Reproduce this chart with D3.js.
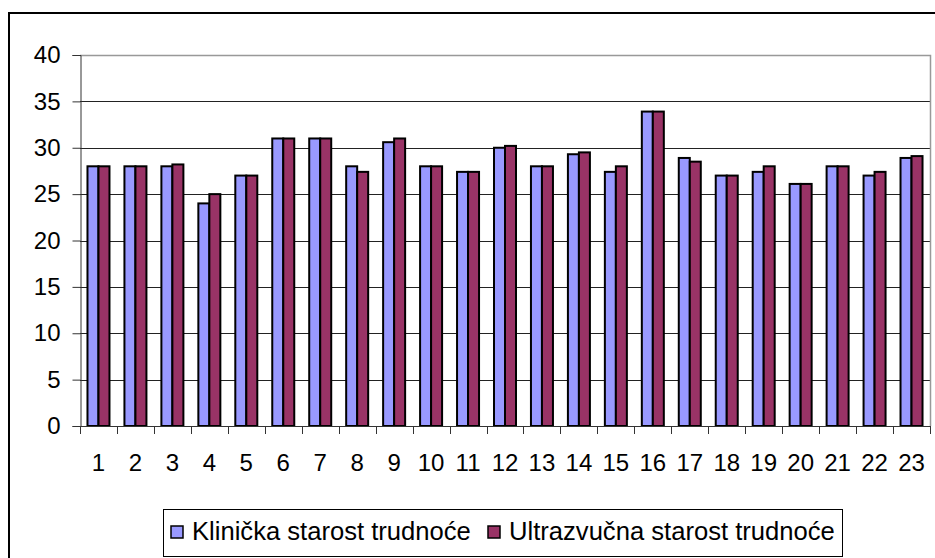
<!DOCTYPE html>
<html>
<head>
<meta charset="utf-8">
<script src="https://cdn.jsdelivr.net/npm/d3@7"></script>
<style>
  body { margin: 0; background: #fff; }
  text { font-family: Arial, "Liberation Sans", sans-serif; fill: #000; }
</style>
</head>
<body>
<svg width="935" height="558"></svg>
<script>
// Chart data
var categories = d3.range(1, 24).map(String);
var klinicka = [28, 28, 28, 24, 27, 31, 31, 28, 30.6, 28, 27.4, 30, 28, 29.3, 27.4, 33.9, 28.9, 27, 27.4, 26.1, 28, 27, 28.9];
var ultrazvucna = [28, 28, 28.2, 25, 27, 31, 31, 27.4, 31, 28, 27.4, 30.2, 28, 29.5, 28, 33.9, 28.5, 27, 28, 26.1, 28, 27.4, 29.1];
var yTicks = [0, 5, 10, 15, 20, 25, 30, 35, 40];
var seriesNames = ["Klinička starost trudnoće", "Ultrazvučna starost trudnoće"];
var seriesColors = ["#9999ff", "#993366"];

var svg = d3.select("svg");

// outer chart border (right/bottom edges run off the picture)
svg.append("path")
    .attr("d", "M9,560 L9,13 L940,13")
    .attr("fill", "none")
    .attr("stroke", "#000")
    .attr("stroke-width", 2);

var x = d3.scaleBand()
    .domain(categories)
    .range([80, 930]);

var y = d3.scaleLinear()
    .domain([0, 40])
    .range([426, 55]);

// gridlines
svg.append("g")
    .selectAll("line")
    .data(yTicks.filter(function(d) { return d > 0 && d < 40; }))
    .enter().append("line")
    .attr("x1", 80).attr("x2", 930)
    .attr("y1", function(d) { return Math.round(y(d)) + 0.5; })
    .attr("y2", function(d) { return Math.round(y(d)) + 0.5; })
    .attr("stroke", "#222")
    .attr("stroke-width", 1);

// plot area border (top and right, grey)
svg.append("path")
    .attr("d", "M80," + (Math.round(y(40)) + 0.5) + " H930.5 V" + y(0))
    .attr("fill", "none")
    .attr("stroke", "#999")
    .attr("stroke-width", 1.5);

// bars
var barW = 11;
var series = [klinicka, ultrazvucna];
series.forEach(function(vals, s) {
    svg.append("g")
        .selectAll("rect")
        .data(vals)
        .enter().append("rect")
        .attr("x", function(d, i) {
            return x(categories[i]) + x.bandwidth() / 2 - barW + s * barW;
        })
        .attr("y", function(d) { return y(d); })
        .attr("width", barW)
        .attr("height", function(d) { return y(0) - y(d); })
        .attr("fill", seriesColors[s])
        .attr("stroke", "#000")
        .attr("stroke-width", 2);
});

// y axis
var yAxis = svg.append("g")
    .attr("transform", "translate(80.5,0)")
    .call(d3.axisLeft(y).tickValues(yTicks).tickSize(8).tickPadding(12));
yAxis.select(".domain").attr("stroke", "#333");
yAxis.selectAll(".tick line").attr("stroke", "#333");
yAxis.selectAll("text")
    .style("font-size", "24px")
    .style("font-family", "Arial, 'Liberation Sans', sans-serif");

// x axis with ticks at category boundaries
var xAxisG = svg.append("g");
xAxisG.append("line")
    .attr("x1", 80).attr("x2", 930)
    .attr("y1", y(0) + 0.5).attr("y2", y(0) + 0.5)
    .attr("stroke", "#333");
xAxisG.selectAll("line.tk")
    .data(d3.range(0, 24))
    .enter().append("line")
    .attr("class", "tk")
    .attr("x1", function(i) { return Math.round(80 + i * x.step()) + 0.5; })
    .attr("x2", function(i) { return Math.round(80 + i * x.step()) + 0.5; })
    .attr("y1", y(0)).attr("y2", y(0) + 8)
    .attr("stroke", "#333");
xAxisG.selectAll("text")
    .data(categories)
    .enter().append("text")
    .attr("x", function(d) { return x(d) + x.bandwidth() / 2; })
    .attr("y", 471)
    .attr("text-anchor", "middle")
    .style("font-size", "24px")
    .text(function(d) { return d; });

// legend
var legend = svg.append("g");
legend.append("rect")
    .attr("x", 163.5).attr("y", 509.5)
    .attr("width", 679).attr("height", 47)
    .attr("fill", "#fff")
    .attr("stroke", "#000")
    .attr("stroke-width", 1);
var lx = [171, 488];
seriesNames.forEach(function(name, s) {
    legend.append("rect")
        .attr("x", lx[s]).attr("y", 526)
        .attr("width", 12).attr("height", 12)
        .attr("fill", seriesColors[s])
        .attr("stroke", "#000")
        .attr("stroke-width", 1.5);
    legend.append("text")
        .attr("x", lx[s] + 21).attr("y", 540)
        .style("font-size", "25.6px")
        .text(name);
});
</script>
</body>
</html>
